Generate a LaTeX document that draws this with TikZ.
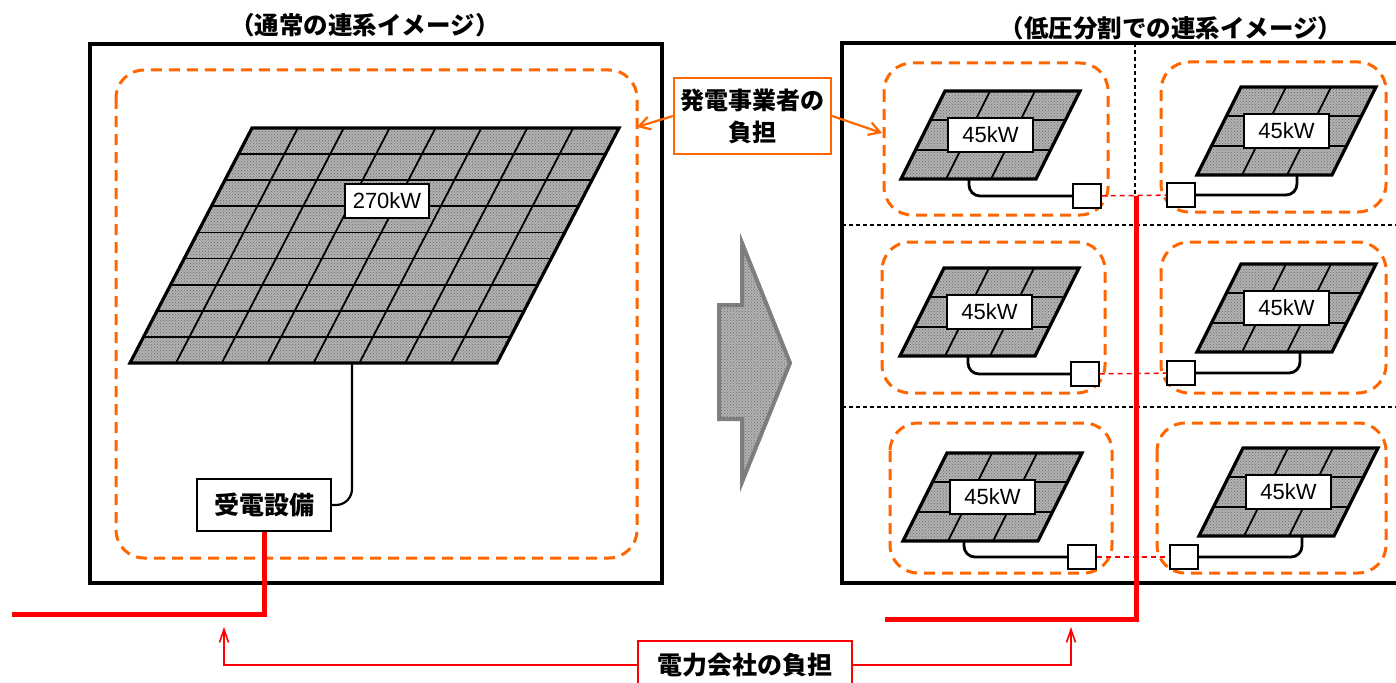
\documentclass[tikz,border=0pt]{standalone}
\usepackage{fontspec}
\setmainfont{Liberation Sans}
\newfontfamily\jp{Noto Sans CJK JP}
\usetikzlibrary{arrows.meta, patterns}
\definecolor{zoneorange}{RGB}{255,102,0}
\definecolor{panelgray}{RGB}{178,178,178}
\definecolor{dotgray}{RGB}{105,105,105}

\tikzset{
  pics/solar/.style n args={3}{code={
    \fill[cell] (0,0) -- (135,0) -- (91,88) -- (-44,88) -- cycle;
    \foreach \r in {1,2}
      \draw[gridline] (-44*\r/3,88*\r/3) -- (135-44*\r/3,88*\r/3);
    \foreach \c in {1,2}
      \draw[gridline] (45*\c,0) -- (45*\c-44,88);
    \draw[outline] (0,0) -- (135,0) -- (91,88) -- (-44,88) -- cycle;
    \node[kwbox] (-kw) at (45.5,44) {45kW};
    \node[jbox] (-jb) at (#1,#2) {};
    \draw[cable, rounded corners=11pt] (#3,88) |- (-jb);
  }}
}

\begin{document}
\begin{tikzpicture}[x=1pt, y=-1pt,
  frame/.style={line width=3.2pt},
  zone/.style={zoneorange, line width=3pt, dash pattern=on 11pt off 7pt, rounded corners=28pt},
  cell/.style={fill=panelgray, postaction={pattern=crosshatch dots, pattern color=dotgray}},
  gridline/.style={line width=1.8pt},
  outline/.style={line width=3.2pt, line join=miter},
  cable/.style={line width=2.8pt},
  kwbox/.style={draw, fill=white, line width=1.2pt, minimum width=85pt, minimum height=34pt, inner sep=0pt, font=\fontsize{22}{24}\selectfont},
  jbox/.style={draw, fill=white, line width=1.2pt, minimum width=28pt, minimum height=24pt, inner sep=0pt},
  divider/.style={line width=1.2pt, dash pattern=on 4pt off 3pt},
  link/.style={red, line width=1.5pt, dash pattern=on 5pt off 4pt},
  feeder/.style={red, line width=5pt},
  callout/.style={draw=zoneorange, line width=2.2pt, fill=white, align=center, minimum width=157pt, minimum height=76pt, inner sep=0pt, font=\jp\bfseries\fontsize{24}{32}\selectfont},
  calloutarrow/.style={zoneorange, line width=2.2pt, -{Straight Barb[length=11pt, width=13pt]}},
  payerbox/.style={draw=red, line width=2.2pt, fill=white, minimum width=214pt, minimum height=48pt, inner sep=0pt, font=\jp\bfseries\fontsize{25}{28}\selectfont},
  payarrow/.style={red, line width=1.6pt, -{Straight Barb[length=13pt, width=9pt]}},
  bigarrow/.style={draw=gray, line width=4pt, line join=miter, fill=panelgray, postaction={pattern=crosshatch dots, pattern color=dotgray}},
  title/.style={font=\jp\bfseries\fontsize{24.5}{26}\selectfont},
  label/.style={draw, line width=1.8pt, fill=white, minimum width=134pt, minimum height=52pt, inner sep=0pt, font=\jp\bfseries\fontsize{25}{28}\selectfont}]

\useasboundingbox (0,0) rectangle (1396,682);

\node[title] (titleL) at (365,25) {（通常の連系イメージ）};
\node[title] (titleR) at (1171,28) {（低圧分割での連系イメージ）};

\draw[frame] (90,44) rectangle (662,583);
\draw[zone] (116,70) rectangle (637,558);

\begin{scope}[shift={(252,128)}]
  \fill[cell] (0,0) -- (367,0) -- (245,235) -- (-122,235) -- cycle;
  \foreach \r in {1,...,8}
    \draw[gridline] (-122*\r/9,235*\r/9) -- (367-122*\r/9,235*\r/9);
  \foreach \c in {1,...,7}
    \draw[gridline] (45.875*\c,0) -- (45.875*\c-122,235);
  \draw[outline] (0,0) -- (367,0) -- (245,235) -- (-122,235) -- cycle;
\end{scope}
\node[kwbox, minimum width=84pt] (bigkw) at (387,201) {270kW};
\coordinate (bigout) at (352,363);

\node[label] (recv) at (264,505) {受電設備};
\draw[cable, line width=2.2pt, rounded corners=16pt] (recv.east) -| (bigout);

\coordinate (gridL) at (12,614);
\draw[feeder] (recv.south) |- (gridL);

\draw[bigarrow] (742,243) -- (790,363) -- (742,482) -- (742,419) -- (719,419)
  -- (719,305) -- (742,305) -- cycle;

\draw[frame] (842,43) rectangle (1402,583);
\draw[divider] (842,225) -- (1396,225);
\draw[divider] (842,407) -- (1396,407);
\draw[divider] (1135,43) -- (1135,583);

\draw[zone] (884,63) rectangle (1108,215);
\draw[zone] (1161,62) rectangle (1386,212);
\draw[zone] (882,242) rectangle (1105,393);
\draw[zone] (1161,242) rectangle (1386,393);
\draw[zone] (890,423) rectangle (1112,573);
\draw[zone] (1157,423) rectangle (1386,573);

\pic (pa) at (945,91) {solar={142}{105}{24}};
\pic (pb) at (1241,87) {solar={-60}{108}{56}};
\pic (pc) at (944,268) {solar={141}{106}{24}};
\pic (pd) at (1241,264) {solar={-60}{109}{59}};
\pic (pe) at (947,453) {solar={135}{104}{17}};
\pic (pf) at (1243,448) {solar={-59}{109}{59}};

\draw[link] (pa-jb) -- (pb-jb);
\draw[link] (pc-jb) -- (pd-jb);
\draw[link] (pe-jb) -- (pf-jb);

\coordinate (tap) at (1136,196);
\coordinate (gridR) at (885,619);
\draw[feeder] (tap) |- (gridR);

\node[callout] (burden) at (752.5,116) {発電事業者の\\負担};
\coordinate (zoneL) at (637,127);
\coordinate (zoneA) at (882,133);
\draw[calloutarrow] (burden.west) -- (zoneL);
\draw[calloutarrow] (burden.east) -- (zoneA);

\node[payerbox] (payer) at (745,665) {電力会社の負担};
\coordinate (tipL) at (224,627);
\coordinate (tipR) at (1071,627);
\draw[payarrow] (payer.west) -| (tipL);
\draw[payarrow] (payer.east) -| (tipR);
\end{tikzpicture}
\end{document}
